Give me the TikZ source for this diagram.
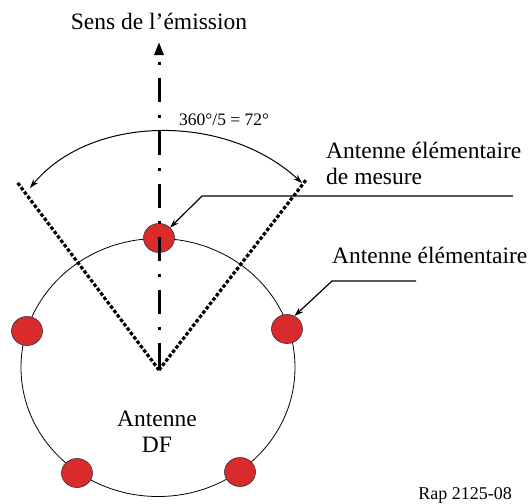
\documentclass[tikz,border=0pt]{standalone}
\usepackage{fontspec}
\setmainfont{Liberation Serif}
\usetikzlibrary{arrows.meta,shapes.geometric}
\definecolor{ElemRed}{HTML}{D92B2B}
\definecolor{RimGrey}{HTML}{333333}

\begin{document}
\begin{tikzpicture}[x=1pt,y=-1pt,
    elem/.style={ellipse,draw=RimGrey,line width=0.6pt,fill=ElemRed,inner sep=0pt,
          minimum width=31pt,minimum height=29pt},
    lbl/.style={inner sep=0pt,font=\fontsize{23.5}{25.5}\selectfont},
    sector/.style={line width=3.2pt,dash pattern=on 3.5pt off 2pt},
    axis/.style={line width=3pt,{Triangle[width=9pt,length=13pt]}-,
          dash pattern=on 3pt off 13pt on 24pt off 13pt,dash phase=45.5pt},
    leader/.style={line width=1.2pt,-{Stealth[length=9pt,width=6pt]}}]
    \useasboundingbox (0,0) rectangle (531,504);

    % array outline and elements
    \coordinate (centre) at (158,367.5);
    \draw[line width=0.8pt] (centre) ellipse [x radius=137pt,y radius=129pt];
    \node[elem] (ant-top) at (159,238) {};
    \node[elem] (ant-right) at (287,329) {};
    \node[elem] (ant-left) at (27,331) {};
    \node[elem] (ant-botleft) at (77,473) {};
    \node[elem] (ant-botright) at (240,472) {};

    % 72 degree sector
    \coordinate (apex) at (159,370);
    \coordinate (sector-l) at (17,182);
    \coordinate (sector-r) at (306,180);
    \draw[sector] (apex) -- (sector-l);
    \draw[sector] (apex) -- (sector-r);

    % direction of emission
    \node[lbl,anchor=base] (sens) at (159,29) {Sens de l’émission};
    \coordinate (axis-tip) at (159,42);
    \draw[axis] (axis-tip) -- (apex);

    \node[anchor=base west,inner sep=0pt,font=\fontsize{17.5}{20}\selectfont] (angle) at (179,125)
          {360°/5 = 72°};
    \coordinate (arc-l) at (30,188);
    \coordinate (arc-r) at (302,183);
    \draw[line width=1pt,{Stealth[length=9pt,width=6pt]}-{Stealth[length=9pt,width=6pt]}]
          (arc-l) .. controls (90,115) and (225,112) .. (arc-r);

    % labels
    \node[lbl,anchor=base west,align=left] (lbl-mesure) at (326,184)
          {Antenne élémentaire\\de mesure};
    \coordinate (tail-1) at (513,196);
    \coordinate (knee-1) at (202,196);
    \draw[leader] (tail-1) -- (knee-1) -- (ant-top.north east);

    \node[lbl,anchor=base west] (lbl-elem) at (332,263) {Antenne élémentaire};
    \coordinate (tail-2) at (416,281);
    \coordinate (knee-2) at (332,281);
    \draw[leader] (tail-2) -- (knee-2) -- (ant-right.60);

    \node[lbl,anchor=base,align=center] (df) at (157,452) {Antenne\\DF};
    \node[anchor=base east,inner sep=0pt,font=\fontsize{18}{20}\selectfont] (ref) at (512,499)
          {Rap 2125-08};
  \end{tikzpicture}
\end{document}
